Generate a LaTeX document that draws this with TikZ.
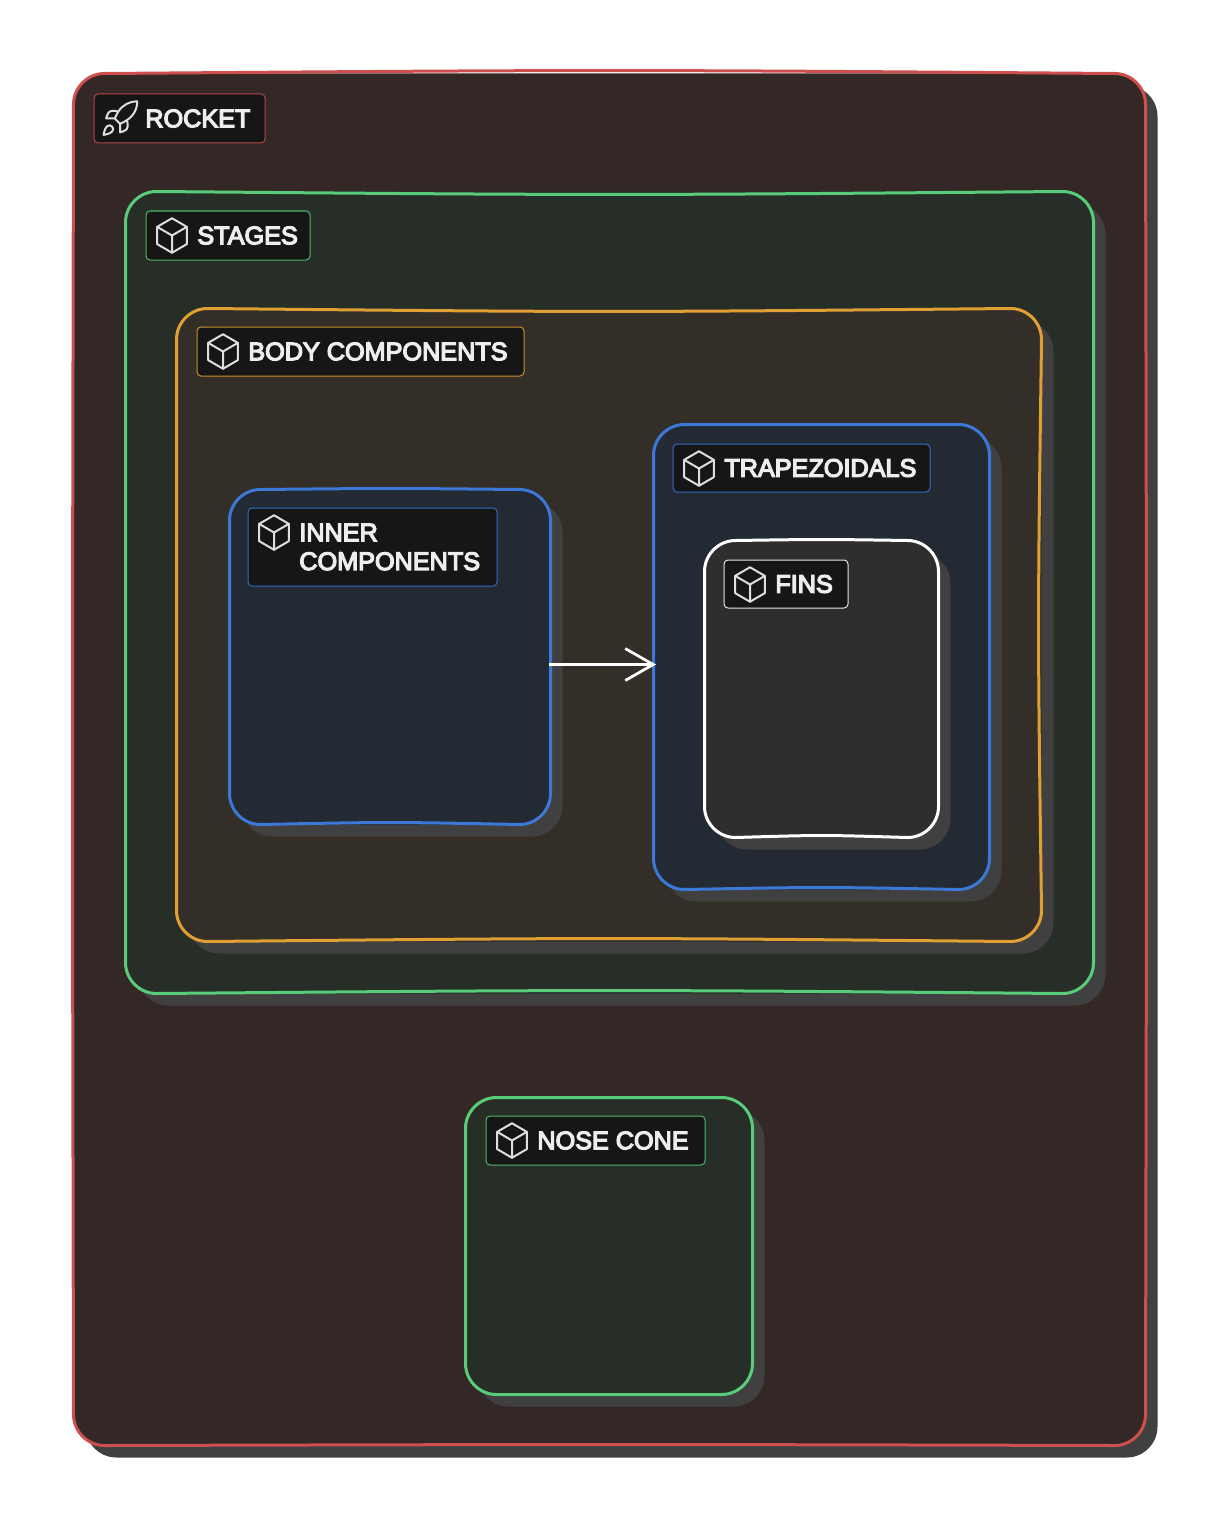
\documentclass[tikz,border=0pt]{standalone}
\usepackage{fontspec}
\usetikzlibrary{arrows.meta,positioning,calc,shadows}
\newfontfamily\tagfont[FakeBold=5]{Liberation Sans}
\definecolor{rocketred}{RGB}{207,78,78}
\definecolor{rocketfill}{RGB}{51,40,38}
\definecolor{stagegreen}{RGB}{88,204,120}
\definecolor{stagefill}{RGB}{39,46,40}
\definecolor{bodyamber}{RGB}{224,160,52}
\definecolor{bodyfill}{RGB}{51,47,40}
\definecolor{partblue}{RGB}{59,120,216}
\definecolor{partfill}{RGB}{35,42,51}
\definecolor{finwhite}{RGB}{255,255,255}
\definecolor{finfill}{RGB}{46,46,46}
\definecolor{shadowgrey}{RGB}{64,64,64}
\definecolor{tagfill}{RGB}{22,22,22}
\definecolor{tagtext}{RGB}{238,238,238}
\definecolor{icongrey}{RGB}{222,222,222}
\tikzset{
  framebox/.style={rounded corners=0.62cm,anchor=north west,inner sep=0,outer sep=0,
    drop shadow={shadow xshift=0.24cm,shadow yshift=-0.24cm,opacity=1,fill=shadowgrey}},
  frameline/.style={draw=#1,line width=0.06cm,line cap=round,line join=round},
  tagbox/.style={draw=#1!90!black,line width=0.02cm,fill=tagfill,rounded corners=0.08cm,anchor=north west,inner sep=0},
  taglabel/.style={inner sep=0,text=tagtext,align=left,font=\tagfont\fontsize{14.35}{16.4}\selectfont},
  iconline/.style={draw=icongrey,line width=0.04cm,line cap=round,line join=round,x=0.0345cm,y=-0.0345cm,shift={(-12,-12)}},
  flow/.style={draw=white,line width=0.055cm,shorten <=-0.03cm,shorten >=-0.05cm,-{Straight Barb[length=0.56cm,width=0.64cm,line width=0.055cm]}},
  pics/boxicon/.style={code={
    \draw[iconline] (12,2) -- (20.6,7) -- (20.6,17) -- (12,22) -- (3.4,17) -- (3.4,7) -- cycle;
    \draw[iconline] (3.4,7) -- (12,12) -- (20.6,7) (12,12) -- (12,22);
  }},
  pics/rocketicon/.style={code={
    \draw[iconline] (4.5,16.5) .. controls (3,17.76) and (2.5,21.5) .. (2.5,21.5) .. controls (2.5,21.5) and (6.24,21) .. (7.5,19.5) .. controls (8.21,18.66) and (8.2,17.37) .. (7.41,16.59) .. controls (6.6,15.8) and (5.3,15.8) .. cycle;
    \draw[iconline] (12,15) -- (9,12) .. controls (9.53,10.6) and (10.2,9.3) .. (11,8.05) .. controls (13.4,4.2) and (17.6,2) .. (22,2) .. controls (22,4.72) and (21.22,9.5) .. (16,13) .. controls (14.7,13.8) and (13.4,14.5) .. cycle;
    \draw[iconline] (9,12) -- (4,12) .. controls (4,12) and (4.55,8.97) .. (6,8) .. controls (7.62,6.92) and (11,8) .. (11,8);
    \draw[iconline] (12,15) -- (12,20) .. controls (12,20) and (15.03,19.45) .. (16,18) .. controls (17.08,16.38) and (16,13) .. (16,13);
  }}
}
\begin{document}
\begin{tikzpicture}
\useasboundingbox (0,0) rectangle (24.4,-30.4);
% frames, the last four columns bow each side a little
\foreach \name/\xx/\yy/\w/\h/\col/\tint/\bt/\br/\bb/\bl in {rocket/1.47/-1.47/21.44/27.44/rocketred/rocketfill/0.06/0.02/0.02/-0.02,stages/2.51/-3.83/19.36/16.04/stagegreen/stagefill/-0.06/0/0.06/0,body/3.53/-6.17/17.30/12.66/bodyamber/bodyfill/-0.06/-0.06/0.06/0,inner/4.59/-9.79/6.42/6.70/partblue/partfill/0.02/0/0.04/0,trapezoidals/13.07/-8.49/6.72/9.30/partblue/partfill/0/0/0.04/0,fins/14.09/-10.81/4.68/5.94/finwhite/finfill/0.02/0/0.04/0,nose/9.31/-21.95/5.74/5.94/stagegreen/stagefill/0/0/0/0}{
\node[framebox,fill=\tint,minimum width=\w cm,minimum height=\h cm] (\name) at (\xx,\yy) {};
\draw[frameline=\col] ($(\name.north west)+(0.62,0)$) .. controls ($(\name.north)+(0,1.3*\bt)$) .. ($(\name.north east)+(-0.62,0)$) .. controls +(0.34,0) and +(0,0.34) .. ($(\name.north east)+(0,-0.62)$) .. controls ($(\name.east)+(1.3*\br,0)$) .. ($(\name.south east)+(0,0.62)$) .. controls +(0,-0.34) and +(0.34,0) .. ($(\name.south east)+(-0.62,0)$) .. controls ($(\name.south)+(0,1.3*\bb)$) .. ($(\name.south west)+(0.62,0)$) .. controls +(-0.34,0) and +(0,-0.34) .. ($(\name.south west)+(0,0.62)$) .. controls ($(\name.west)+(1.3*\bl,0)$) .. ($(\name.north west)+(0,-0.62)$) .. controls +(0,0.34) and +(-0.34,0) .. cycle;}
\foreach \name/\xx/\yy/\w/\h/\col/\ic/\lab in {rocket/1.87/-1.87/3.42/0.98/rocketred/rocketicon/ROCKET,stages/2.91/-4.21/3.28/0.98/stagegreen/boxicon/STAGES,body/3.93/-6.53/6.54/0.98/bodyamber/boxicon/BODY COMPONENTS,inner/4.95/-10.15/4.98/1.56/partblue/boxicon/{INNER\\COMPONENTS},trapezoidals/13.45/-8.87/5.14/0.96/partblue/boxicon/TRAPEZOIDALS,fins/14.47/-11.19/2.48/0.96/finwhite/boxicon/FINS,nose/9.71/-22.31/4.38/0.98/stagegreen/boxicon/NOSE CONE}{
\node[tagbox=\col,minimum width=\w cm,minimum height=\h cm] (\name tag) at (\xx,\yy) {};
\pic at ($(\name tag.north west)+(0.53,-0.5)$) {\ic};
\node[taglabel,right=1.03cm of \name tag.west] (\name label) {\lab};}
\draw[flow] ([yshift=-0.15cm]inner.east) -- ([yshift=-0.15cm]trapezoidals.west);
\end{tikzpicture}
\end{document}
